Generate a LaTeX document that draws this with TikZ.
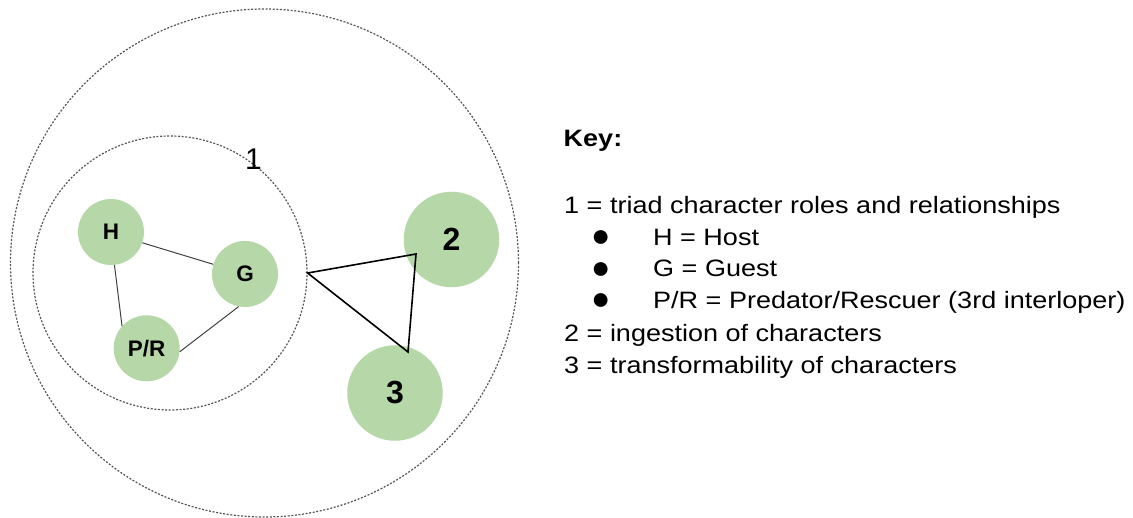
\documentclass[tikz,border=0pt]{standalone}
\usepackage{fontspec}
\setmainfont{Liberation Sans}
\newfontfamily\keyfont[FakeStretch=1.14]{Liberation Sans}
\definecolor{nodegreen}{HTML}{B6D7A8}
\definecolor{linkcol}{HTML}{404040}
\definecolor{dotcol}{HTML}{555555}
\tikzset{
  ring/.style={circle, draw=dotcol, line width=1.2pt, dash pattern=on 2pt off 1.6pt, inner sep=0pt},
  role/.style={circle, fill=nodegreen, minimum size=66pt, inner sep=0pt, font=\fontsize{22.5}{24}\selectfont\bfseries},
  bigrole/.style={circle, fill=nodegreen, minimum size=95.5pt, inner sep=0pt, font=\fontsize{32}{36}\selectfont\bfseries},
  link/.style={draw=linkcol, line width=1pt},
  tri/.style={draw=black, line width=1.6pt, line join=miter},
  keyline/.style={anchor=base west, inner sep=0pt, font=\keyfont\fontsize{23.7}{28}\selectfont},
  bullet/.style={anchor=center, inner sep=0pt, font=\fontsize{32}{34}\selectfont}
}
\begin{document}
\begin{tikzpicture}[x=1pt,y=-1pt]
\useasboundingbox (0,0) rectangle (1133,517);
% rings
\node[ring, minimum size=508pt] (outer) at (264.5,263) {};
\node[ring, minimum size=274pt] (inner) at (170,273) {};
\node[font=\fontsize{30}{32}\selectfont, inner sep=0pt] (lab1) at (253.5,159) {1};
% triad
\node[role] (H) at (111,232) {H};
\node[role] (G) at (245,274) {G};
\node[role] (PR) at (146.7,348.3) {P/R};
\draw[link] (H.-84) -- (PR.138);
\draw[link] (H.-19.6) -- (G.163);
\draw[link] (PR.-6) -- (G.-101);
% 2 and 3
\node[bigrole] (two) at (451.5,239.5) {2};
\node[bigrole] (three) at (395,393) {3};
\coordinate (tA) at (inner.east);
\coordinate (tB) at (416,254);
\coordinate (tC) at (408,352);
\draw[tri] (tA) -- (tB) -- (tC) -- cycle;
% key
\node[keyline, font=\keyfont\fontsize{23.7}{28}\selectfont\bfseries] (key) at (563.5,146.7) {Key:};
\node[keyline] (k1) at (564,213.3) {1 = triad character roles and relationships};
\node[bullet] (b1) at (600.7,238.3) {●};
\node[keyline] (kH) at (653,245) {H = Host};
\node[bullet] (b2) at (600.7,270.1) {●};
\node[keyline] (kG) at (653,276.8) {G = Guest};
\node[bullet] (b3) at (600.7,301.9) {●};
\node[keyline] (kPR) at (653,308.6) {P/R = Predator/Rescuer (3rd interloper)};
\node[keyline] (k2) at (564,341.2) {2 = ingestion of characters};
\node[keyline] (k3) at (564,373) {3 = transformability of characters};
\end{tikzpicture}
\end{document}
